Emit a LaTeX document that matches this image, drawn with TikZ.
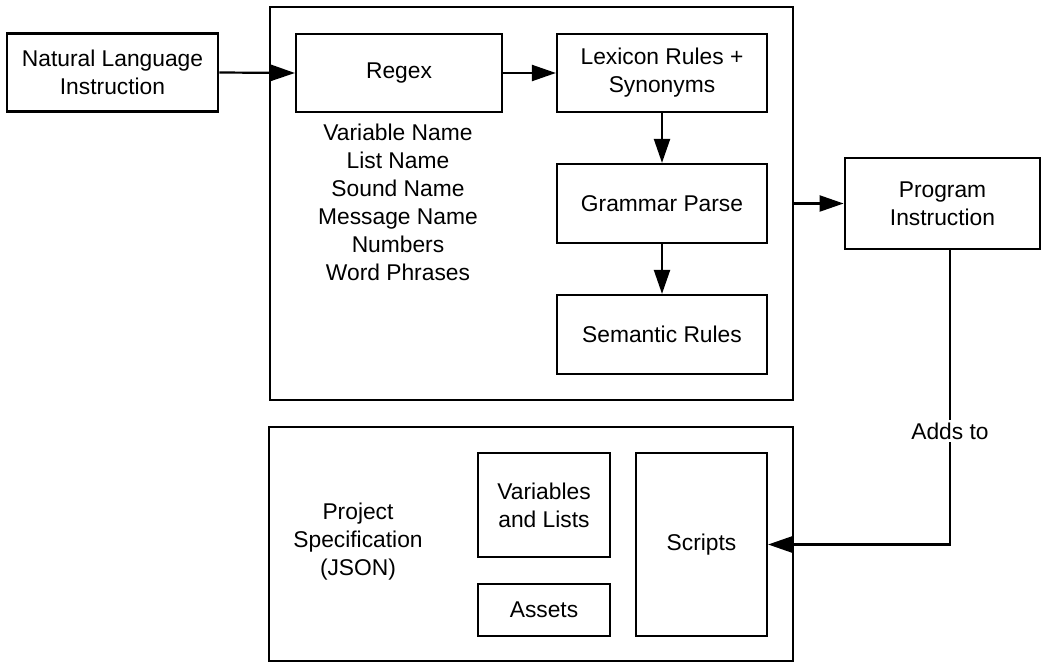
\documentclass[tikz,border=0pt]{standalone}
\usepackage{fontspec}
\setmainfont{Liberation Sans}
\usetikzlibrary{arrows.meta}
\begin{document}
\begin{tikzpicture}[x=1pt,y=-1pt,
  box/.style={draw,line width=2.2pt,inner sep=0pt,align=center,font=\fontsize{22.8}{28}\selectfont},
  thickbox/.style={box,line width=2.8pt},
  frame/.style={draw,line width=2.8pt,inner sep=0pt},
  conn/.style={line width=2.2pt,-{Triangle[length=24pt,width=16pt]}},
  txt/.style={inner sep=0pt,align=center,font=\fontsize{22.8}{28}\selectfont}]
\useasboundingbox (0,0) rectangle (1047,663);
% frames
\node[frame,minimum width=523pt,minimum height=393pt] (top) at (531.5,203.5) {};
\node[frame,minimum width=524pt,minimum height=234pt] (bottom) at (531,544) {};
% top row
\node[thickbox,minimum width=211pt,minimum height=78pt] (nl) at (112.5,72.5) {Natural Language\\Instruction};
\node[box,minimum width=206pt,minimum height=78pt] (regex) at (399,73) {Regex};
\node[box,minimum width=210pt,minimum height=78pt] (lex) at (662,73) {Lexicon Rules +\\Synonyms};
\node[box,minimum width=210pt,minimum height=79pt] (gram) at (662,203.5) {Grammar Parse};
\node[box,minimum width=210pt,minimum height=79pt] (sem) at (662,334.5) {Semantic Rules};
\node[thickbox,minimum width=195pt,minimum height=91pt] (prog) at (942.5,203.5) {Program\\Instruction};
\node[txt] (list) at (398,202) {Variable Name\\List Name\\Sound Name\\Message Name\\Numbers\\Word Phrases};
% bottom
\node[txt] (spec) at (358,542) {Project\\Specification\\(JSON)};
\node[box,minimum width=132pt,minimum height=104pt] (vars) at (544,505) {Variables\\and Lists};
\node[box,minimum width=132pt,minimum height=52pt] (assets) at (544,610) {Assets};
\node[box,minimum width=131pt,minimum height=183pt] (scripts) at (701.5,544.5) {Scripts};
% connectors
\draw[conn] (nl.east) -- (regex.west);
\draw[conn] (regex.east) -- (lex.west);
\draw[conn] (lex.south) -- (gram.north);
\draw[conn] (gram.south) -- (sem.north);
\draw[conn] (top.east) -- (prog.west);
\coordinate (turn) at (950,544.5);
\draw[conn] (prog.south -| turn) -- (turn) -- (scripts.east);
\node[txt,fill=white,inner sep=3pt] (adds) at (950,431) {Adds to};
\end{tikzpicture}
\end{document}
